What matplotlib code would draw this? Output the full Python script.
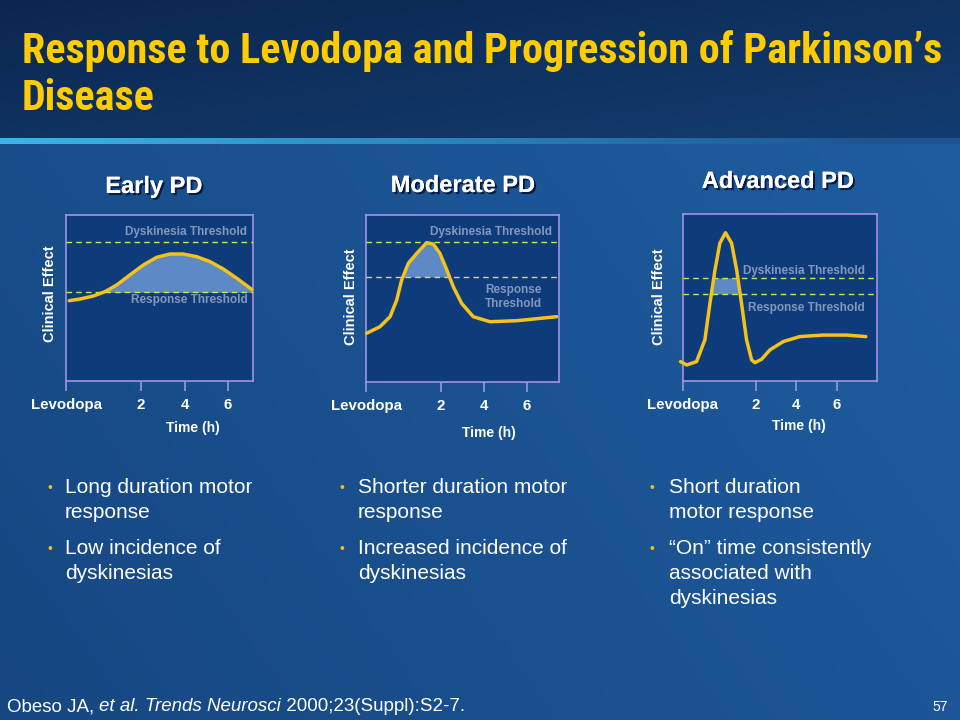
import matplotlib
matplotlib.use("Agg")
import matplotlib.pyplot as plt
import numpy as np
from matplotlib import patheffects as pe
import logging
logging.getLogger("matplotlib.font_manager").setLevel(logging.ERROR)

# ---------------- data ----------------
panel_titles = ["Early PD", "Moderate PD", "Advanced PD"]
tick_labels = ["Levodopa", "2", "4", "6"]
tick_hours = [2, 4, 6]

early_t = [-1.30, -0.80, -0.19, 0.34, 0.88, 1.49, 2.11, 2.72, 3.33, 3.94, 4.56, 5.17, 5.78, 6.40, 7.09]
early_y = [4.84, 4.94, 5.12, 5.38, 5.78, 6.39, 6.99, 7.45, 7.65, 7.65, 7.49, 7.19, 6.75, 6.19, 5.52]

moderate_t = [-1.46, -0.84, -0.37, -0.06, 0.17, 0.48, 0.87, 1.33, 1.64, 1.95, 2.27, 2.57, 2.96, 3.50, 4.28, 5.52, 7.38]
moderate_y = [2.92, 3.31, 3.91, 4.91, 6.11, 7.11, 7.70, 8.34, 8.26, 7.70, 6.71, 5.71, 4.71, 3.91, 3.61, 3.67, 3.91]

advanced_t = [-1.72, -1.42, -0.93, -0.52, -0.27, -0.02, 0.22, 0.50, 0.80, 1.05, 1.29, 1.54, 1.79, 1.95, 2.28, 2.69, 3.35, 4.17, 5.32, 6.48, 7.43]
advanced_y = [1.16, 0.96, 1.16, 2.46, 4.65, 6.65, 8.25, 8.88, 8.25, 6.65, 4.65, 2.46, 1.26, 1.10, 1.30, 1.86, 2.36, 2.66, 2.75, 2.75, 2.66]

dyskinesia_thr = [8.36, 8.38, 6.17]
response_thr = [5.34, 6.29, 5.21]
levodopa_t = [-1.45, -1.49, -1.60]   # time position of the "Levodopa" mark
t_end = [7.15, 7.49, 7.98]

bullets = [
    [["Long duration motor", "response"], ["Low incidence of", "dyskinesias"]],
    [["Shorter duration motor", "response"], ["Increased incidence of", "dyskinesias"]],
    [["Short duration", "motor response"], ["\u201cOn\u201d time consistently", "associated with", "dyskinesias"]],
]

title_lines = ["Response to Levodopa and Progression of Parkinson\u2019s", "Disease"]

# ---------------- figure ----------------
W, H = 960, 720
fig = plt.figure(figsize=(9.6, 7.2), dpi=100)

def fx(x):
    return x / W

def fy(y):
    return 1 - y / H

# background image
bg = fig.add_axes([0, 0, 1, 1])
bg.set_axis_off()
ny, nx = 360, 480
yy, xx = np.mgrid[0:1:ny * 1j, 0:1:nx * 1j]
hdr = yy < 137 / H
top_a = np.array([0x0b, 0x27, 0x4f]) / 255
top_b = np.array([0x13, 0x3d, 0x70]) / 255
low_a = np.array([0x16, 0x47, 0x82]) / 255
low_b = np.array([0x1f, 0x5d, 0xa0]) / 255
f_top = np.clip(0.5 * xx + 0.5 * (yy / (137 / H)), 0, 1)[..., None]
f_low = np.clip(0.7 * xx + 0.3 * (1 - (yy - 0.19) / 0.81), 0, 1)[..., None]
img = np.where(hdr[..., None], top_a * (1 - f_top) + top_b * f_top,
               low_a * (1 - f_low) + low_b * f_low)
line = (yy >= 137 / H) & (yy < 143 / H)
cy = np.array([0x38, 0xb8, 0xea]) / 255
cfade = np.clip(xx * 1.1, 0, 1)[..., None]
lc = cy * (1 - cfade) + np.array([0x1c, 0x55, 0x92]) / 255 * cfade
img = np.where(line[..., None], lc, img)
bg.imshow(img, extent=[0, 1, 0, 1], aspect="auto", origin="upper")
bg.set_xlim(0, 1)
bg.set_ylim(0, 1)

sans = ["Liberation Sans", "DejaVu Sans"]
bold = dict(fontfamily=sans, fontweight="bold")
narrow = ["Liberation Sans Narrow", "Arial Narrow", "Roboto Condensed", "Asap Condensed",
          "Liberation Sans", "DejaVu Sans"]

# title
fig.text(fx(22), fy(63), title_lines[0], color="#ffcc00", fontsize=30.3, fontweight="bold",
         fontfamily=narrow, va="baseline", ha="left")
fig.text(fx(22), fy(110), title_lines[1], color="#ffcc00", fontsize=30.3, fontweight="bold",
         fontfamily=narrow, va="baseline", ha="left")

# panel geometry (pixel boxes)
boxes = [(66, 215, 253, 381), (366, 215, 559, 382), (683, 214, 877, 381)]
curves = [(early_t, early_y), (moderate_t, moderate_y), (advanced_t, advanced_y)]
title_pos = [(154, 193), (463, 192), (778, 188)]
time_pos = [(193, 432), (489, 437), (799, 430)]
ylab_pos = [(50, 294), (351, 297), (659, 297)]

frame_col = "#a093e6"
thr_col = "#8497bd"
for i in range(3):
    x0, y0, x1, y1 = boxes[i]
    ax = fig.add_axes([fx(x0), fy(y1), (x1 - x0) / W, (y1 - y0) / H])
    ax.set_facecolor("#0e3b79")
    for s in ax.spines.values():
        s.set_color(frame_col)
        s.set_linewidth(1.2)
    ax.set_xlim(levodopa_t[i], t_end[i])
    ax.set_ylim(0, 10)
    ax.set_yticks([])
    ax.set_xticks([levodopa_t[i]] + tick_hours)
    ax.set_xticklabels(tick_labels)
    ax.tick_params(axis="x", direction="out", length=7, width=1.2, color=frame_col,
                   labelcolor="white", labelsize=10.8, pad=5)
    for lab in ax.get_xticklabels():
        lab.set_fontweight("bold")
        lab.set_fontfamily(sans)
    t = np.array(curves[i][0])
    y = np.array(curves[i][1])
    d, r = dyskinesia_thr[i], response_thr[i]
    ax.fill_between(t, r, np.minimum(y, d), where=y > r, interpolate=True,
                    color="#5d89c4", lw=0, zorder=2)
    ax.axhline(d, color="#d6e24e", lw=1.0, ls=(0, (4, 3)), zorder=3)
    ax.axhline(r, color="#d6e24e", lw=1.0, ls=(0, (4, 3)), zorder=3)
    ax.plot(t, y, color="#f4c21c", lw=2.5, solid_capstyle="round",
            solid_joinstyle="round", clip_on=False, zorder=5)

    tx, ty = title_pos[i]
    fig.text(fx(tx), fy(ty), panel_titles[i], color="white", fontsize=17, ha="center",
             va="baseline", path_effects=[pe.withSimplePatchShadow(offset=(1.5, -1.5),
                                                                  shadow_rgbFace="#06153a", alpha=0.9),
                                          pe.Normal()], **bold)
    tx, ty = time_pos[i]
    fig.text(fx(tx), fy(ty), "Time (h)", color="white", fontsize=10, ha="center",
             va="baseline", **bold)
    tx, ty = ylab_pos[i]
    fig.text(fx(tx), fy(ty), "Clinical Effect", color="white", fontsize=10.5, ha="center",
             va="center", rotation=90, **bold)

# threshold labels
tk = dict(color=thr_col, fontsize=8.5, va="baseline", **bold)
fig.text(fx(247), fy(235), "Dyskinesia Threshold", ha="right", **tk)
fig.text(fx(248), fy(303), "Response Threshold", ha="right", **tk)
fig.text(fx(552), fy(235), "Dyskinesia Threshold", ha="right", **tk)
fig.text(fx(513), fy(293), "Response", ha="center", **tk)
fig.text(fx(513), fy(307), "Threshold", ha="center", **tk)
fig.text(fx(865), fy(274), "Dyskinesia Threshold", ha="right", **tk)
fig.text(fx(865), fy(311), "Response Threshold", ha="right", **tk)

# bullets
bullet_x = [(47, 65), (340, 358), (650, 669)]
first_base = 493
line_gap = 24.5
item_gap = 37
for i in range(3):
    bx, tx = bullet_x[i]
    yb = first_base
    for item in bullets[i]:
        fig.text(fx(bx), fy(yb - 1), "\u2022", color="#f2c010", fontsize=10, ha="left",
                 va="baseline", fontfamily=sans)
        for j, ln in enumerate(item):
            fig.text(fx(tx), fy(yb + j * line_gap), ln, color="white", fontsize=15,
                     ha="left", va="baseline", fontfamily=sans)
        yb += (len(item) - 1) * line_gap + item_gap

# footer with mixed styles
renderer = fig.canvas.get_renderer()
parts = [("Obeso JA, ", "normal"), ("et al. Trends Neurosci", "italic"),
         (" 2000;23(Suppl):S2-7.", "normal")]
xcur = 7
for s, st in parts:
    tt = fig.text(fx(xcur), fy(711), s, color="white", fontsize=13.5, fontstyle=st,
                  fontfamily=sans, ha="left", va="baseline")
    bb = tt.get_window_extent(renderer=renderer)
    xcur += bb.width
fig.text(fx(948), fy(711), "57", color="white", fontsize=10, ha="right", va="baseline",
         fontfamily=sans)

fig.savefig("out.png", dpi=100)
